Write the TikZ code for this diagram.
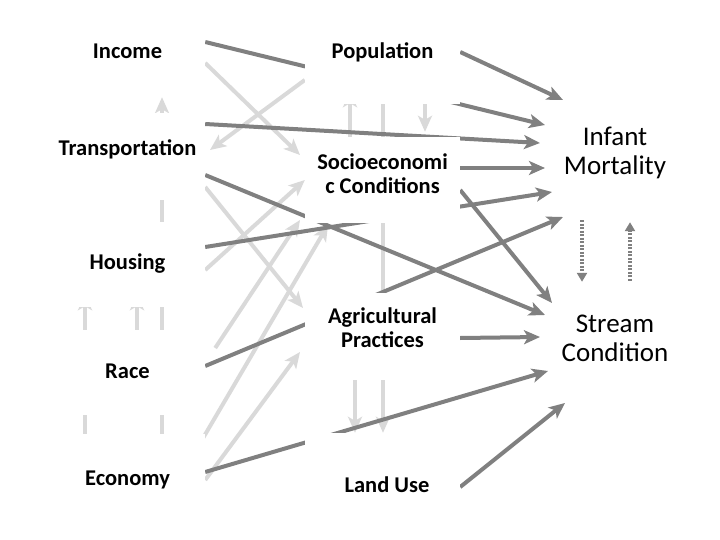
\documentclass[tikz,border=0pt]{standalone}
\usepackage{fontspec}
\setmainfont{Carlito}
\usetikzlibrary{arrows.meta, backgrounds}

\definecolor{arrowdark}{HTML}{808080}
\definecolor{arrowlight}{HTML}{D9D9D9}

% text of a box, raised by #1
\newcommand{\boxtext}[2]{\raisebox{#1}[0pt][0pt]{\begin{tabular}[b]{@{}c@{}}#2\end{tabular}}}

\tikzset{
    lbox/.style={fill=white, inner sep=0pt, minimum width=155pt,
        font=\fontsize{22.5}{24}\selectfont\bfseries},
    rbox/.style={inner sep=0pt, minimum width=100pt,
        font=\fontsize{27}{29}\selectfont},
    dk/.style={draw=arrowdark, line width=4pt,
        -{Stealth[length=16pt, width=14pt, inset=4pt]}},
    lt/.style={draw=arrowlight, line width=4pt,
        -{Stealth[length=16pt, width=14pt, inset=4pt]}},
    dot/.style={draw=arrowdark, line width=3.5pt, dash pattern=on 2pt off 1.5pt,
        -{Triangle[length=9pt, width=10pt]}}
}

\begin{document}
\begin{tikzpicture}[x=1pt, y=-1pt]
    \useasboundingbox (0,0) rectangle (720,540);

    % left column
    \node[lbox, minimum height=90pt] (inc) at (127.5,52) {\boxtext{-7pt}{Income}};
    \node[lbox, minimum height=87pt] (trn) at (127.5,156.5) {\boxtext{0.5pt}{Transportation}};
    \node[lbox, minimum height=85pt] (hou) at (127.5,264.5) {\boxtext{-5.5pt}{Housing}};
    \node[lbox, minimum height=85pt] (rac) at (127.5,372.5) {\boxtext{-5.5pt}{Race}};
    \node[lbox, minimum height=88pt] (eco) at (127.5,478) {\boxtext{-7pt}{Economy}};

    % middle column
    \node[lbox, minimum height=104pt] (pop) at (382.5,52) {\boxtext{-7pt}{Population}};
    \node[lbox, minimum height=86pt] (soc) at (382.5,180) {\boxtext{-14pt}{Socioeconomi\\c Conditions}};
    \node[lbox, minimum height=87pt] (agr) at (382.5,336.5) {\boxtext{-11pt}{Agricultural\\Practices}};
    \node[lbox, minimum height=104pt] (lnd) at (382.5,485) {\boxtext{-7pt}{\hspace*{9pt}Land Use}};

    % right column
    \node[rbox, minimum height=120pt] (im) at (615,160) {\boxtext{-15pt}{Infant\\Mortality}};
    \node[rbox, minimum height=115pt] (str) at (615,338.5) {\boxtext{-22.5pt}{Stream\\Condition}};

    \begin{pgfonlayer}{background}
        \coordinate (trnin) at (210,150);
        \coordinate (socin1) at (300,155);
        \coordinate (socin2) at (300,220);
        \coordinate (socin3) at (328,225);
        \coordinate (agrin1) at (303,308);
        \coordinate (agrin2) at (300,352);
        \coordinate (mort1) at (563,100);
        \coordinate (mort2) at (545,125);
        \coordinate (mort3) at (540,143);
        \coordinate (mort4) at (545,168);
        \coordinate (mort5) at (552,192);
        \coordinate (mort6) at (563,217);
        \coordinate (strm1) at (552,303);
        \coordinate (strm2) at (545,315);
        \coordinate (strm3) at (540,337);
        \coordinate (strm4) at (548,371);
        \coordinate (strm5) at (565,403);

        % light arrows
        \draw[lt] ([yshift=-11pt]inc.east) -- (socin1);
        \draw[lt] ([yshift=-28pt]pop.west) -- (trnin);
        \draw[lt] ([yshift=-5.5pt]hou.east) -- (soc.west);
        \draw[lt] ([yshift=-30.5pt]trn.east) -- (agrin1);
        \draw[lt] ([xshift=10pt, yshift=24.5pt]rac.east) -- (socin2);
        \draw[lt] ([xshift=-2pt, yshift=-4pt]eco.north east) -- (socin3);
        \draw[lt] ([yshift=-2pt]eco.east) -- (agrin2);

        \draw[lt] ([xshift=34.5pt]trn.center) -- ([xshift=34.5pt]inc.south);
        \draw[lt] ([xshift=34.5pt]eco.center) -- ([xshift=34.5pt, yshift=-15pt]trn.center);
        \draw[lt] ([xshift=-42.5pt]eco.center) -- ([xshift=-42.5pt, yshift=13pt]hou.south);
        \draw[lt] ([xshift=9.5pt]rac.center) -- ([xshift=9.5pt, yshift=13pt]hou.south);
        \draw[lt] ([xshift=-32.5pt]soc.center) -- ([xshift=-32.5pt, yshift=13pt]pop.south);
        \draw[lt] ([xshift=0.5pt]soc.center) -- ([xshift=0.5pt]pop.center);
        \draw[lt] ([xshift=42.5pt]pop.center) -- ([xshift=42.5pt, yshift=5pt]soc.north);
        \draw[lt] ([xshift=-27.5pt]agr.center) -- ([xshift=-27.5pt]lnd.north);
        \draw[lt] ([xshift=0.5pt]soc.center) -- ([xshift=0.5pt]lnd.north);

        % dark arrows
        \draw[dk] (pop.east) -- (mort1);
        \draw[dk] ([yshift=10pt]inc.east) -- (mort2);
        \draw[dk] ([yshift=32.5pt]trn.east) -- (mort3);
        \draw[dk] ([yshift=12pt]soc.east) -- (mort4);
        \draw[dk] ([yshift=17.5pt]hou.east) -- (mort5);
        \draw[dk] ([yshift=6.5pt]rac.east) -- (mort6);
        \draw[dk] ([yshift=-10pt]soc.east) -- (strm1);
        \draw[dk] ([yshift=-18.5pt]trn.east) -- (strm2);
        \draw[dk] ([yshift=-1.5pt]agr.east) -- (strm3);
        \draw[dk] ([yshift=6pt]eco.east) -- (strm4);
        \draw[dk] ([yshift=-2pt]lnd.east) -- (strm5);
    \end{pgfonlayer}

    % feedback between the outcomes
    \draw[dot] ([xshift=-33pt]im.south) -- ([xshift=-33pt, yshift=-1pt]str.north);
    \draw[dot] ([xshift=15pt]str.north) -- ([xshift=15pt, yshift=-2pt]im.south);
\end{tikzpicture}
\end{document}
